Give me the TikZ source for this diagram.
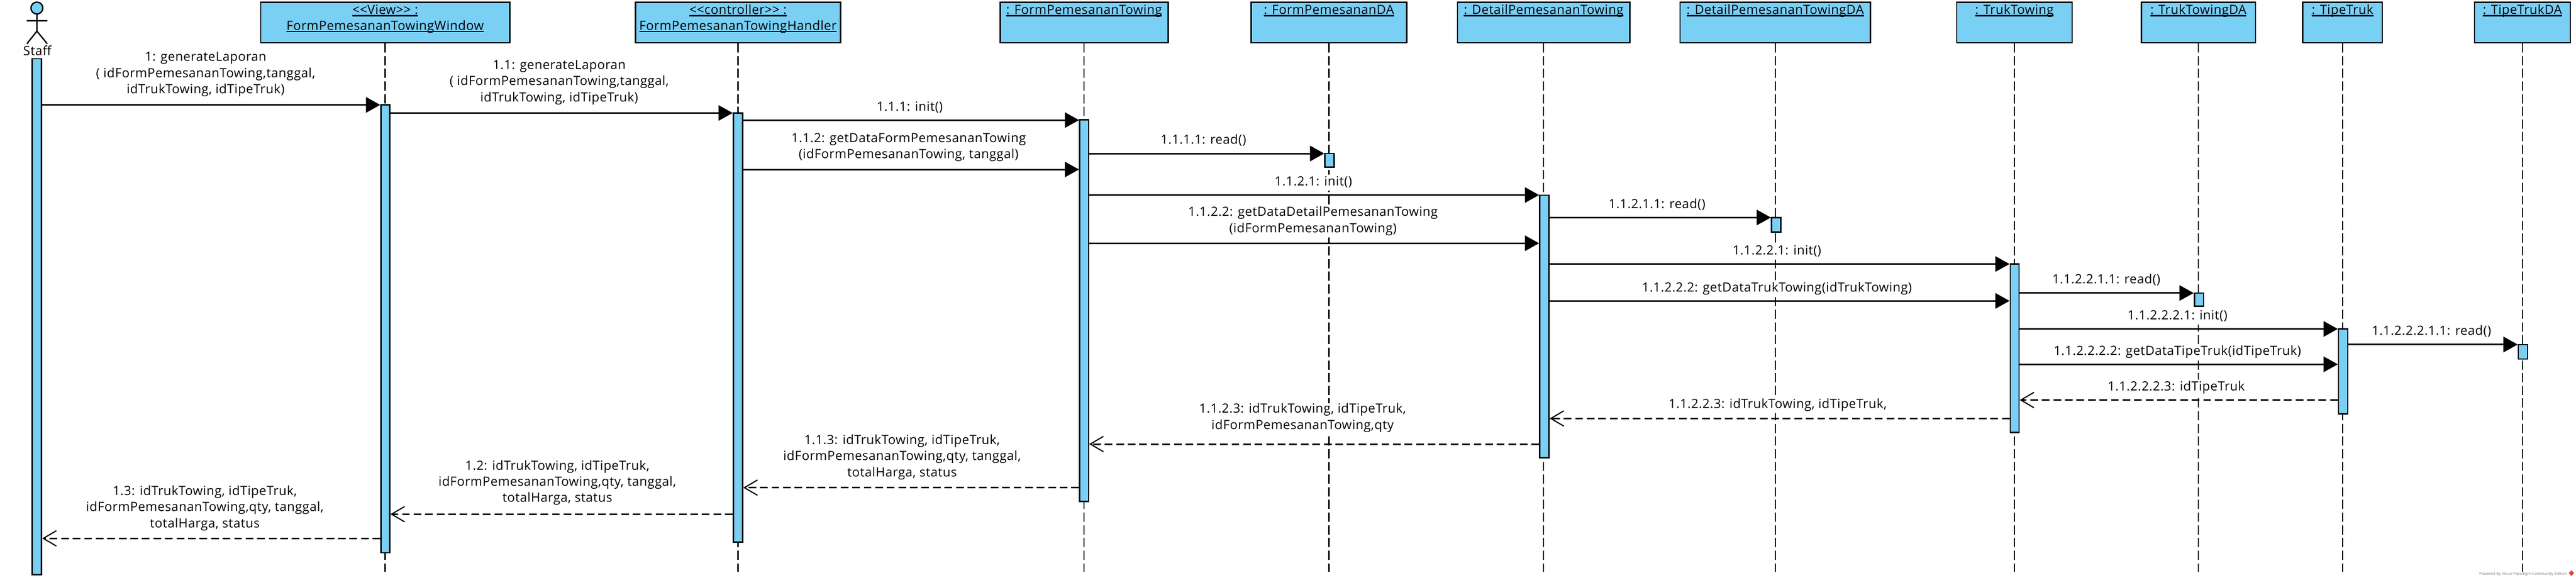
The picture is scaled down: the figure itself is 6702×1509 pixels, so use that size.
\documentclass[tikz,border=0pt]{standalone}
\usepackage{fontspec}
\setmainfont{Open Sans}
\newfontfamily\vpfont[LetterSpace=2.5]{Open Sans}
\usetikzlibrary{arrows.meta}
\definecolor{vpblue}{HTML}{7ACFF5}
\definecolor{vpred}{HTML}{D9453F}
\newcommand{\ulbox}[1]{\leavevmode\setbox0\hbox{#1}\rlap{\raisebox{-5pt}{\rule{\wd0}{3pt}}}\box0}
\newcommand{\vpobj}[4]{\node[objbox, minimum width={#3-#2}] (#1) at ({(#2+#3)/2},58.5)
  {\parbox[c][105pt][t]{\dimexpr #3pt-#2pt\relax}{\centering\vspace*{2.6pt}\strut #4\par}};}
\newcommand{\vpact}[5]{\node[actbox, minimum width={#3-#2}, minimum height={#5-#4}] (#1) at ({(#2+#3)/2},{(#4+#5)/2}) {};}
\newcommand{\vplife}[1]{\draw[lifeline] (#1.south) -- (#1.south |- 0,1488);}
\newcommand{\vplab}[4]{\node[msglabel] (#1) at (#2,{#3-29.4}) {#4};}
\newcommand{\vpcall}[3]{\draw[callmsg] (#1.east |- 0,#3) -- (#2.west |- 0,#3);}
\newcommand{\vpret}[3]{\draw[retmsg] (#1.west |- 0,#3) -- (#2.east |- 0,#3);}
\tikzset{
  objbox/.style={draw=black, fill=vpblue, line width=3.5pt, inner sep=0pt, minimum height=105pt, font=\vpfont\fontsize{33}{41}\selectfont},
  actbox/.style={draw=black, fill=vpblue, line width=3.5pt, inner sep=0pt},
  lifeline/.style={black, line width=3pt, dash pattern=on 24pt off 9pt},
  msglabel/.style={fill=white, inner sep=0pt, anchor=north, align=center, font=\vpfont\fontsize{33}{42}\selectfont, execute at begin node={\strut}},
  callmsg/.style={black, line width=4pt, -{Triangle[length=37pt,width=40pt]}},
  retmsg/.style={black, line width=4pt, dash pattern=on 20pt off 10pt, -{Straight Barb[length=34pt,width=40pt,line width=3pt]}},
  figure/.style={black, line width=3.5pt},
}
\begin{document}
\begin{tikzpicture}[x=1pt,y=-1pt]
\path[use as bounding box] (0,0) rectangle (6702,1509);
% objects
\vpobj{view}{678}{1326}{\ulbox{<{}<View>{}> :}\\\ulbox{FormPemesananTowingWindow}}
\vpobj{handler}{1653}{2187}{\ulbox{<{}<controller>{}> :}\\\ulbox{FormPemesananTowingHandler}}
\vpobj{form}{2602}{3039}{\ulbox{: FormPemesananTowing}}
\vpobj{formda}{3255}{3660}{\ulbox{: FormPemesananDA}}
\vpobj{detail}{3792}{4240}{\ulbox{: DetailPemesananTowing}}
\vpobj{detailda}{4371}{4866}{\ulbox{: DetailPemesananTowingDA}}
\vpobj{truk}{5091}{5391}{\ulbox{: TrukTowing}}
\vpobj{trukda}{5571}{5868}{\ulbox{: TrukTowingDA}}
\vpobj{tipe}{5991}{6198}{\ulbox{: TipeTruk}}
\vpobj{tipeda}{6438}{6687}{\ulbox{: TipeTrukDA}}
% lifelines
\foreach \o in {view,handler,form,formda,detail,detailda,truk,trukda,tipe,tipeda}{\vplife{\o}}
% actor
\draw[figure, fill=vpblue] (96,21) circle (15.5);
\draw[figure] (96,37) -- (96,81) (70,54) -- (123,54) (70,114) -- (96,81) -- (123,114);
\node[msglabel] (staff) at (97,114.6) {Staff};
% labels
\vplab{l1}{535}{165}{1: generateLaporan\\( idFormPemesananTowing,tanggal,\\idTrukTowing, idTipeTruk)}
\vplab{l11}{1455}{186}{1.1: generateLaporan\\( idFormPemesananTowing,tanggal,\\idTrukTowing, idTipeTruk)}
\vplab{l111}{2367}{288}{1.1.1: init()}
\vplab{l112}{2364}{375}{1.1.2: getDataFormPemesananTowing\\(idFormPemesananTowing, tanggal)}
\vplab{l1111}{3131}{375}{1.1.1.1: read()}
\vplab{l1121}{3417}{483}{1.1.2.1: init()}
\vplab{l1122}{3416}{567}{1.1.2.2: getDataDetailPemesananTowing\\(idFormPemesananTowing)}
\vplab{l11211}{4311}{542}{1.1.2.1.1: read()}
\vplab{l11221}{4623}{663}{1.1.2.2.1: init()}
\vplab{l11222}{4623}{759}{1.1.2.2.2: getDataTrukTowing(idTrukTowing)}
\vplab{l112211}{5480}{738}{1.1.2.2.1.1: read()}
\vplab{l112221}{5665}{832}{1.1.2.2.2.1: init()}
\vplab{l112222}{5665}{924}{1.1.2.2.2.2: getDataTipeTruk(idTipeTruk)}
\vplab{l112223}{5662}{1017}{1.1.2.2.2.3: idTipeTruk}
\vplab{l1122211}{6326}{872}{1.1.2.2.2.1.1: read()}
\vplab{l11223}{4625}{1062}{1.1.2.2.3: idTrukTowing, idTipeTruk,}
\vplab{l1123}{3389}{1079}{1.1.2.3: idTrukTowing, idTipeTruk,\\idFormPemesananTowing,qty}
\vplab{l113}{2347}{1160}{1.1.3: idTrukTowing, idTipeTruk,\\idFormPemesananTowing,qty, tanggal,\\totalHarga, status}
\vplab{l12}{1450}{1227}{1.2: idTrukTowing, idTipeTruk,\\idFormPemesananTowing,qty, tanggal,\\totalHarga, status}
\vplab{l13}{533}{1293}{1.3: idTrukTowing, idTipeTruk,\\idFormPemesananTowing,qty, tanggal,\\totalHarga, status}
% activations
\vpact{astaff}{84}{108}{153}{1495}
\vpact{aview}{991}{1014}{273}{1438}
\vpact{ahandler}{1908}{1932}{294}{1411}
\vpact{aform}{2809}{2832}{312}{1305}
\vpact{aformda}{3447}{3471}{399.5}{435}
\vpact{adetail}{4006}{4030}{508}{1191}
\vpact{adetailda}{4609}{4633}{566}{604}
\vpact{atruk}{5230}{5253}{687}{1125}
\vpact{atrukda}{5709}{5733}{762.5}{797}
\vpact{atipe}{6084}{6108}{856}{1077}
\vpact{atipeda}{6552}{6576}{896.5}{934}
% calls
\vpcall{astaff}{aview}{273}
\vpcall{aview}{ahandler}{294}
\vpcall{ahandler}{aform}{312.5}
\vpcall{ahandler}{aform}{441}
\vpcall{aform}{aformda}{399.5}
\vpcall{aform}{adetail}{507.5}
\vpcall{aform}{adetail}{633}
\vpcall{adetail}{adetailda}{566}
\vpcall{adetail}{atruk}{687}
\vpcall{adetail}{atruk}{783}
\vpcall{atruk}{atrukda}{762.5}
\vpcall{atruk}{atipe}{856}
\vpcall{atruk}{atipe}{948}
\vpcall{atipe}{atipeda}{896.5}
% returns
\vpret{atipe}{atruk}{1041}
\vpret{atruk}{adetail}{1089}
\vpret{adetail}{aform}{1155.5}
\vpret{aform}{ahandler}{1269}
\vpret{ahandler}{aview}{1338}
\vpret{aview}{astaff}{1401}
% watermark
\node[inner sep=0pt, anchor=base east, text=black!50, font=\fontsize{10.2}{12}\selectfont] (mark) at (6679,1496) {Powered By Visual Paradigm Community Edition};
\fill[vpred] (6690,1484) -- (6697,1491) -- (6690,1499) -- (6683,1491) -- cycle;
\end{tikzpicture}
\end{document}
